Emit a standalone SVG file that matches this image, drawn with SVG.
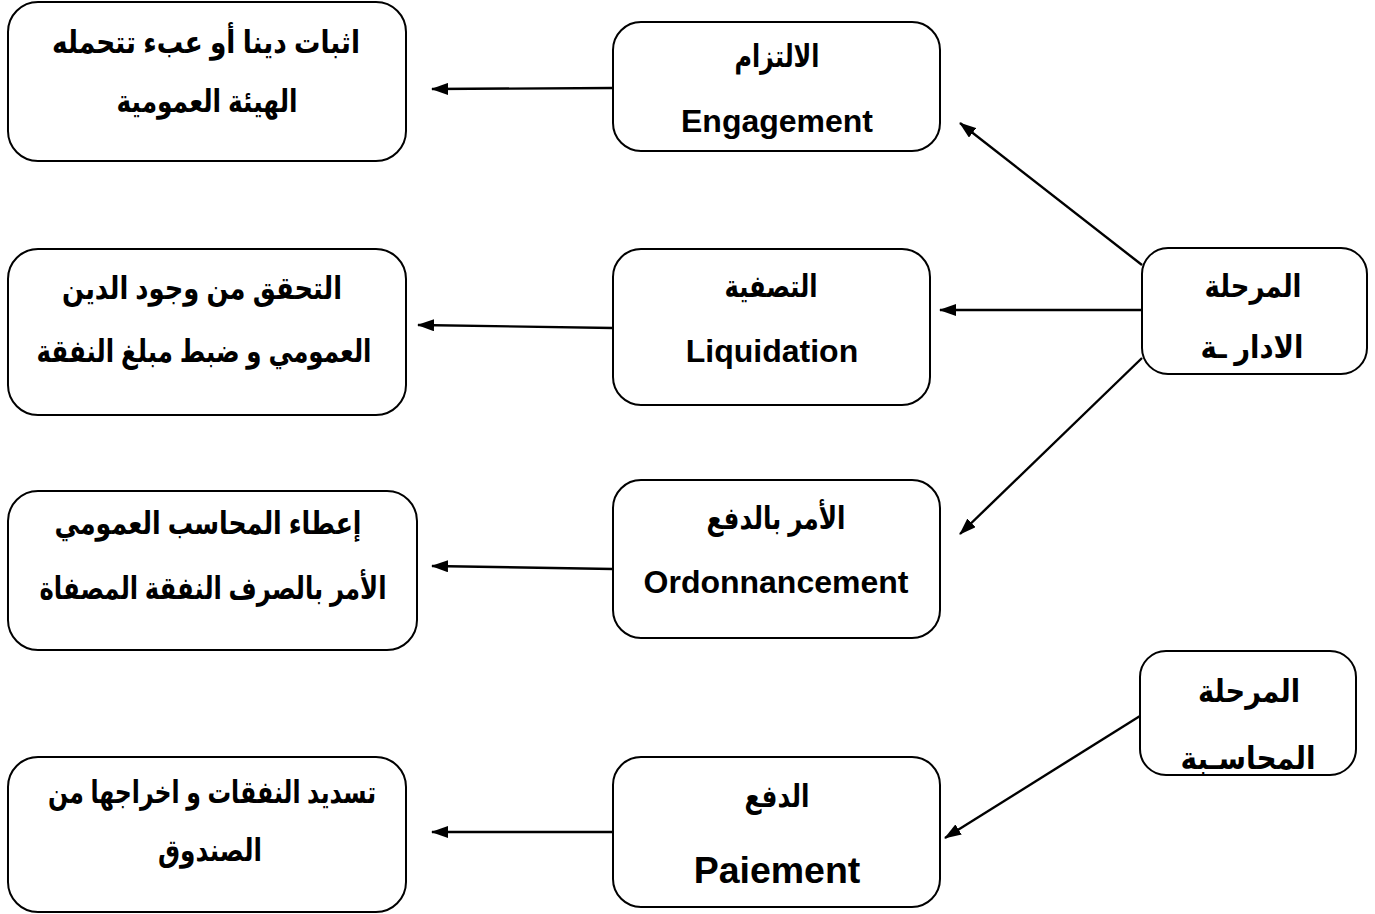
<svg xmlns="http://www.w3.org/2000/svg" width="1375" height="914" viewBox="0 0 1375 914">
<style>
.box{fill:#fff;stroke:#000;stroke-width:2}
.ar{font-family:"Liberation Sans","DejaVu Sans",sans-serif;font-weight:bold;font-size:31px;text-anchor:middle;direction:rtl;fill:#000}
.en{font-family:"Liberation Sans",Arial,sans-serif;font-weight:bold;font-size:32px;text-anchor:middle;fill:#000}
.ln{stroke:#000;stroke-width:2.4;fill:none;marker-end:url(#ah)}
</style>
<defs>
<marker id="ah" viewBox="0 0 17 12" refX="16" refY="6" markerWidth="17" markerHeight="12" markerUnits="userSpaceOnUse" orient="auto">
<path d="M0,0 L17,6 L0,12 Z" fill="#000"/>
</marker>
</defs>
<rect width="1375" height="914" fill="#fff"/>
<g id="connectors">
<line class="ln" x1="613" y1="88" x2="432" y2="89"/>
<line class="ln" x1="613" y1="328" x2="418" y2="325"/>
<line class="ln" x1="613" y1="569" x2="432" y2="566"/>
<line class="ln" x1="613" y1="832" x2="432" y2="832"/>
<line class="ln" x1="1142" y1="265" x2="960" y2="123"/>
<line class="ln" x1="1142" y1="310" x2="940" y2="310"/>
<line class="ln" x1="1142" y1="358" x2="960" y2="534"/>
<line class="ln" x1="1140" y1="716" x2="945" y2="838"/>
</g>
<g id="l1"><rect class="box" x="8" y="2" width="398" height="159" rx="30"/>
<text class="ar" x="206" y="53" textLength="308" lengthAdjust="spacingAndGlyphs">اثبات دينا أو عبء تتحمله</text>
<text class="ar" x="207" y="112" textLength="181" lengthAdjust="spacingAndGlyphs">الهيئة العمومية</text></g>
<g id="l2"><rect class="box" x="8" y="249" width="398" height="166" rx="30"/>
<text class="ar" x="202" y="299" textLength="280" lengthAdjust="spacingAndGlyphs">التحقق من وجود الدين</text>
<text class="ar" x="204" y="362" textLength="335" lengthAdjust="spacingAndGlyphs">العمومي و ضبط مبلغ النفقة</text></g>
<g id="l3"><rect class="box" x="8" y="491" width="409" height="159" rx="30"/>
<text class="ar" x="208" y="534" textLength="307" lengthAdjust="spacingAndGlyphs">إعطاء المحاسب العمومي</text>
<text class="ar" x="213" y="599" textLength="347" lengthAdjust="spacingAndGlyphs">الأمر بالصرف النفقة المصفاة</text></g>
<g id="l4"><rect class="box" x="8" y="757" width="398" height="155" rx="30"/>
<text class="ar" x="212" y="803" textLength="328" lengthAdjust="spacingAndGlyphs">تسديد النفقات و اخراجها من</text>
<text class="ar" x="210" y="861" textLength="104" lengthAdjust="spacingAndGlyphs">الصندوق</text></g>
<g id="m1"><rect class="box" x="613" y="22" width="327" height="129" rx="28"/>
<text class="ar" x="777" y="67" textLength="85" lengthAdjust="spacingAndGlyphs">الالتزام</text>
<text class="en" x="777" y="132">Engagement</text></g>
<g id="m2"><rect class="box" x="613" y="249" width="317" height="156" rx="28"/>
<text class="ar" x="771" y="297" textLength="93" lengthAdjust="spacingAndGlyphs">التصفية</text>
<text class="en" x="772" y="362">Liquidation</text></g>
<g id="m3"><rect class="box" x="613" y="480" width="327" height="158" rx="28"/>
<text class="ar" x="776" y="529" textLength="139" lengthAdjust="spacingAndGlyphs">الأمر بالدفع</text>
<text class="en" x="776" y="593">Ordonnancement</text></g>
<g id="m4"><rect class="box" x="613" y="757" width="327" height="150" rx="28"/>
<text class="ar" x="777" y="807" textLength="65" lengthAdjust="spacingAndGlyphs">الدفع</text>
<text class="en" x="777" y="883" style="font-size:37.5px">Paiement</text></g>
<g id="r1"><rect class="box" x="1142" y="248" width="225" height="126" rx="26"/>
<text class="ar" x="1253" y="297" textLength="97" lengthAdjust="spacingAndGlyphs">المرحلة</text>
<text class="ar" x="1252" y="358" textLength="103" lengthAdjust="spacingAndGlyphs">الادار ـة</text></g>
<g id="r2"><rect class="box" x="1140" y="651" width="216" height="124" rx="26"/>
<text class="ar" x="1249" y="702" textLength="102" lengthAdjust="spacingAndGlyphs">المرحلة</text>
<text class="ar" x="1248" y="769" textLength="135" lengthAdjust="spacingAndGlyphs">المحاسـبة</text></g>
</svg>
